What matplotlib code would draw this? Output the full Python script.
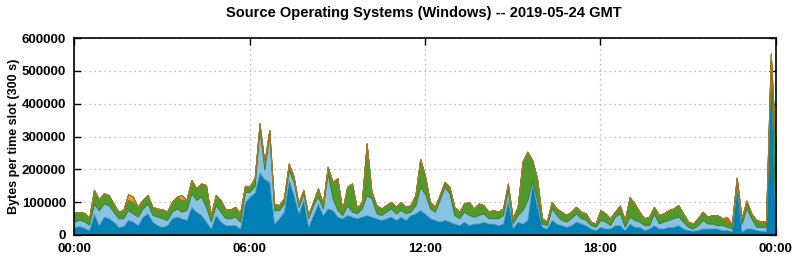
import matplotlib
matplotlib.use("Agg")
import matplotlib.pyplot as plt
import numpy as np

# 10-minute samples over the day, values in thousands of bytes per 300 s slot
total_top = [68, 70, 67, 52, 138, 108, 127, 122, 96, 71, 76, 124, 117, 86, 107, 122, 86, 81, 78, 71,
             101, 117, 122, 107, 168, 142, 157, 152, 61, 122, 107, 78, 78, 86, 66, 150, 147, 175, 340, 220,
             320, 95, 91, 112, 218, 178, 96, 137, 61, 101, 142, 96, 208, 162, 173, 76, 147, 157, 81, 101,
             279, 132, 91, 81, 91, 101, 86, 101, 86, 91, 122, 232, 180, 101, 86, 122, 162, 147, 86, 71,
             96, 101, 81, 96, 91, 71, 76, 71, 81, 157, 51, 86, 223, 254, 228, 173, 51, 41, 101, 81,
             71, 61, 71, 86, 71, 66, 41, 35, 76, 66, 51, 71, 90, 46, 115, 96, 71, 51, 56, 86,
             61, 66, 76, 81, 91, 66, 41, 35, 51, 71, 56, 61, 61, 51, 56, 35, 175, 51, 105, 66,
             46, 41, 41, 553, 260]
lightblue_top = [41, 46, 42, 32, 95, 75, 96, 91, 71, 51, 51, 76, 66, 56, 81, 96, 61, 56, 51, 46,
                 71, 81, 71, 76, 127, 107, 117, 86, 41, 91, 71, 51, 51, 56, 41, 130, 132, 150, 320, 200,
                 305, 75, 76, 96, 198, 162, 86, 127, 51, 91, 117, 81, 188, 112, 76, 61, 91, 71, 66, 81,
                 122, 112, 66, 61, 71, 81, 66, 76, 66, 71, 91, 147, 125, 81, 71, 107, 147, 127, 61, 51,
                 71, 61, 56, 61, 66, 51, 51, 51, 61, 137, 35, 61, 76, 106, 167, 106, 35, 30, 81, 61,
                 46, 41, 51, 66, 51, 46, 30, 25, 46, 41, 30, 56, 66, 25, 56, 46, 41, 30, 30, 66,
                 35, 41, 46, 51, 56, 41, 25, 20, 30, 46, 35, 35, 30, 30, 25, 20, 160, 35, 81, 51,
                 25, 25, 25, 535, 20]
blue_top = [25, 27, 22, 15, 65, 30, 56, 51, 41, 25, 27, 46, 41, 30, 56, 66, 41, 30, 25, 30,
            51, 56, 51, 46, 86, 71, 61, 41, 20, 61, 41, 30, 30, 30, 20, 100, 117, 130, 190, 170,
            162, 35, 51, 71, 168, 122, 66, 107, 25, 61, 96, 61, 81, 76, 56, 51, 61, 56, 51, 56,
            61, 56, 51, 46, 51, 56, 46, 56, 46, 61, 66, 76, 65, 51, 46, 41, 46, 41, 35, 30,
            41, 30, 35, 35, 41, 35, 35, 30, 35, 106, 20, 41, 35, 46, 157, 86, 25, 20, 46, 35,
            30, 25, 30, 41, 35, 30, 20, 15, 25, 20, 20, 30, 30, 15, 35, 25, 25, 15, 20, 30,
            20, 20, 25, 25, 30, 20, 15, 13, 15, 20, 20, 20, 20, 15, 15, 12, 147, 10, 20, 20,
            15, 13, 13, 525, 10]
# extra thin layers on top (index -> thousands)
orange_amber = {11: 17, 12: 15, 17: 4, 22: 15}
orange_red = {134: 15}

n = len(total_top)
hours = np.arange(n) / 6.0
total = np.array(total_top) * 1000.0
lb_top = np.array(lightblue_top) * 1000.0
db = np.array(blue_top) * 1000.0
amber = np.zeros(n)
for k, v in orange_amber.items():
    amber[k] = v * 1000.0
red = np.zeros(n)
for k, v in orange_red.items():
    red[k] = v * 1000.0

lb = lb_top - db
green = total - lb_top - amber - red

plt.rcParams['font.family'] = ['Liberation Sans', 'DejaVu Sans']
fig = plt.figure(figsize=(7.95, 2.6), dpi=100)
ax = fig.add_axes([0.0937, 0.0962, 0.8820, 0.7576])

faces = ['#0080b4', '#88c2e2', '#4f9a2b', '#f0a21e', '#e4600c']
edges = ['#1f6a8e', '#5d9fc4', '#3d7d20', '#a0782a', '#a0782a']
polys = ax.stackplot(hours, db, lb, green, amber, red, colors=faces, zorder=2)
for p, e in zip(polys, edges):
    p.set_edgecolor(e)
    p.set_linewidth(0.6)

ax.set_xlim(0, 24)
ax.set_ylim(0, 600000)
ax.set_xticks([0, 6, 12, 18, 24])
ax.set_xticklabels(['00:00', '06:00', '12:00', '18:00', '00:00'])
ax.set_yticks(np.arange(0, 600001, 100000))
ax.set_yticklabels([str(v) for v in range(0, 600001, 100000)])
ax.tick_params(direction='in', top=True, right=True, length=5, width=1, labelsize=9.5, pad=6)
for lab in ax.get_xticklabels() + ax.get_yticklabels():
    lab.set_fontweight('bold')
ax.grid(True, color='#b0b0b0', linestyle=(0, (1, 3)), linewidth=0.9, zorder=1)
for s in ax.spines.values():
    s.set_linewidth(1.2)
    s.set_zorder(5)

ax.set_ylabel('Bytes per time slot (300 s)', fontsize=9, fontweight='bold', labelpad=1)
fig.suptitle('Source Operating Systems (Windows) -- 2019-05-24 GMT', fontsize=10.5,
             fontweight='bold', x=0.533, y=0.975)

fig.savefig('out.png', dpi=100)
